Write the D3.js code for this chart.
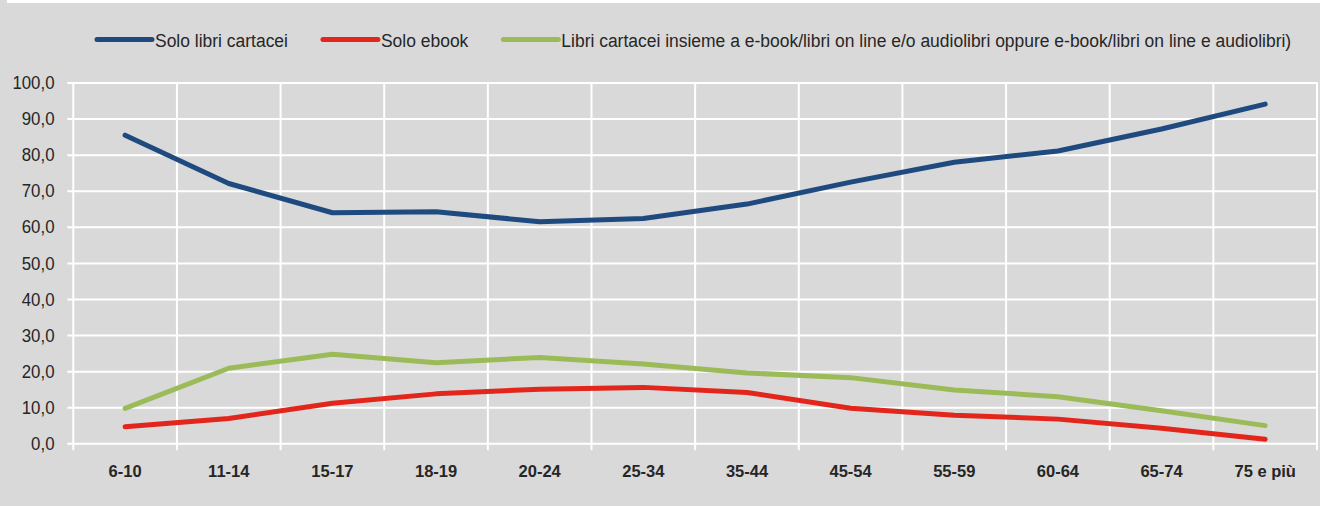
<!DOCTYPE html>
<html>
<head>
<meta charset="utf-8">
<script src="https://cdn.jsdelivr.net/npm/d3@7"></script>
<style>
  html, body { margin: 0; padding: 0; background: #d9d9d9; }
  svg { display: block; }
  text { font-family: "Liberation Sans", Arial, sans-serif; fill: #262626; }
</style>
</head>
<body>
<svg id="chart" width="1320" height="506"></svg>
<script>
// Age groups along the x axis
const categories = ["6-10", "11-14", "15-17", "18-19", "20-24", "25-34", "35-44", "45-54", "55-59", "60-64", "65-74", "75 e più"];

// Series values (%)
const soloCartacei = [85.4, 72.0, 63.9, 64.2, 61.4, 62.3, 66.3, 72.4, 77.9, 81.0, 87.1, 94.0];
const soloEbook    = [4.6, 6.9, 11.1, 13.7, 15.0, 15.5, 14.1, 9.7, 7.8, 6.7, 4.2, 1.1];
const insieme      = [9.7, 20.8, 24.7, 22.3, 23.8, 22.0, 19.5, 18.2, 14.8, 12.9, 9.0, 4.9];

const seriesNames = [
  "Solo libri cartacei",
  "Solo ebook",
  "Libri cartacei insieme a e-book/libri on line e/o audiolibri oppure e-book/libri on line e audiolibri)"
];
const seriesColors = ["#1f4a7f", "#e3261c", "#9bbb59"];

// Y axis ticks
const yTicks = [0, 10, 20, 30, 40, 50, 60, 70, 80, 90, 100];
const fmt = v => v.toFixed(1).replace(".", ",");

const svg = d3.select("#chart");
const W = 1320, H = 506;
const margin = { left: 73.3, right: 3, top: 82.5, bottom: 62.7 };
const plotW = W - margin.left - margin.right;
const plotH = H - margin.top - margin.bottom;

svg.append("rect").attr("width", W).attr("height", H).attr("fill", "#d9d9d9");
// thin white strip along the top edge
svg.append("rect").attr("x", 7).attr("y", 0).attr("width", W - 7).attr("height", 3).attr("fill", "#ffffff");

const x = d3.scaleBand().domain(categories).range([margin.left, margin.left + plotW]).padding(0);
const y = d3.scaleLinear().domain([0, 100]).range([margin.top + plotH, margin.top]);

const g = svg.append("g");

// horizontal gridlines + left tick marks
const yAxis = d3.axisLeft(y).tickValues(yTicks).tickSize(plotW + 6).tickFormat(fmt).tickPadding(0);
const yg = g.append("g").attr("transform", `translate(${margin.left + plotW},0)`).call(yAxis);
yg.select(".domain").remove();
yg.selectAll(".tick line").attr("stroke", "#ffffff").attr("stroke-width", 2);
yg.selectAll(".tick text").remove();

// y tick labels (condensed face)
g.append("g").selectAll("text").data(yTicks).join("text")
  .attr("transform", d => `translate(54.5,${y(d) + 6.6}) scale(0.91,1)`)
  .attr("text-anchor", "end")
  .style("font-size", "18.5px")
  .text(fmt);

// vertical gridlines at category boundaries, extending below the axis as ticks
const bounds = categories.map(c => x(c)).concat([margin.left + plotW]);
g.append("g").selectAll("line").data(bounds).join("line")
  .attr("x1", d => d).attr("x2", d => d)
  .attr("y1", margin.top).attr("y2", margin.top + plotH + 7)
  .attr("stroke", "#ffffff").attr("stroke-width", 2);

// x labels
const xAxis = d3.axisBottom(x).tickSize(0).tickPadding(0);
const xg = g.append("g").attr("transform", `translate(0,${margin.top + plotH})`).call(xAxis);
xg.select(".domain").remove();
xg.selectAll(".tick text")
  .attr("y", 33.5).attr("dy", 0)
  .style("font-size", "16.5px").style("font-weight", "bold")
  .style("font-family", "'Liberation Sans', Arial, sans-serif")
  .attr("fill", "#262626");

// series lines
const line = d3.line()
  .x((d, i) => x(categories[i]) + x.bandwidth() / 2)
  .y(d => y(d));

[soloCartacei, soloEbook, insieme].forEach((vals, k) => {
  g.append("path").datum(vals)
    .attr("d", line)
    .attr("fill", "none")
    .attr("stroke", seriesColors[k])
    .attr("stroke-width", 5)
    .attr("stroke-linejoin", "round")
    .attr("stroke-linecap", "round");
});

// legend
const leg = svg.append("g");
let lx = 97;
const ly = 39.5;
seriesNames.forEach((name, k) => {
  leg.append("line")
    .attr("x1", lx).attr("x2", lx + 55)
    .attr("y1", ly).attr("y2", ly)
    .attr("stroke", seriesColors[k]).attr("stroke-width", 5)
    .attr("stroke-linecap", "round");
  const t = leg.append("text")
    .attr("transform", `translate(${lx + 58},${ly + 7}) scale(0.91,1)`)
    .style("font-size", "19.2px")
    .text(name);
  const w = t.node().getComputedTextLength() * 0.91;
  lx = lx + 58 + w + 35;
});
</script>
</body>
</html>
